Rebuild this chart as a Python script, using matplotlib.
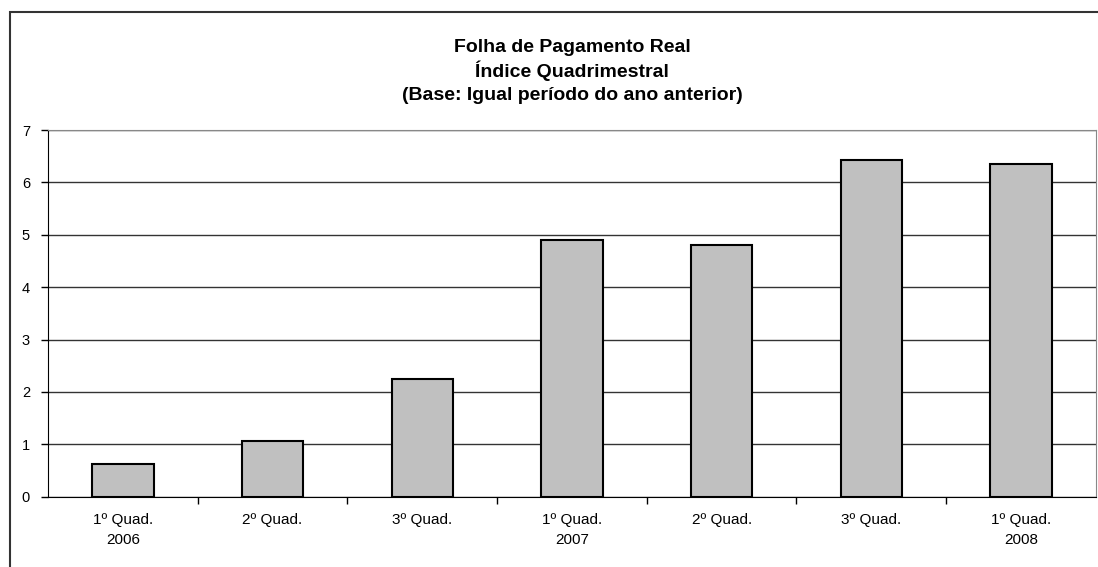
import matplotlib.pyplot as plt
from matplotlib.patches import Rectangle
import numpy as np

plt.rcParams['font.family'] = ['Liberation Sans', 'DejaVu Sans']

# data
categories = ['1º Quad.\n2006', '2º Quad.', '3º Quad.', '1º Quad.\n2007',
              '2º Quad.', '3º Quad.', '1º Quad.\n2008']
values = [0.62, 1.06, 2.24, 4.90, 4.81, 6.42, 6.35]
yticks = [0, 1, 2, 3, 4, 5, 6, 7]

fig = plt.figure(figsize=(10.98, 5.67), dpi=100)
ax = fig.add_axes([0.0437, 0.124, 0.9543, 0.6467])

# outer chart border
fig.patches.append(Rectangle((10/1098, -0.05), 1.2, 1 - 12/567 + 0.05,
                             transform=fig.transFigure, fill=False,
                             edgecolor='#333333', linewidth=1.5))

x = np.arange(len(values))
ax.bar(x, values, width=0.41, color='#C0C0C0', edgecolor='black',
       linewidth=1.5, zorder=3)

ax.set_xlim(-0.5, len(values) - 0.5)
ax.set_ylim(0, 7)
ax.set_yticks(yticks)
ax.set_yticklabels([str(t) for t in yticks], fontsize=10.5)
ax.yaxis.grid(True, color='#333333', linewidth=1, zorder=0)

# category labels between boundary ticks
ax.set_xticks(x)
ax.set_xticklabels(categories, fontsize=11, linespacing=1.5)
ax.tick_params(axis='x', length=0, pad=12)
ax.set_xticks(np.arange(0.5, len(values) - 0.5, 1), minor=True)
ax.tick_params(axis='x', which='minor', length=5, width=1, direction='out')
ax.tick_params(axis='y', length=5, width=1, direction='out', pad=8)

for s in ['top', 'right']:
    ax.spines[s].set_color('#888888')
ax.spines['left'].set_color('black')
ax.spines['bottom'].set_color('black')

fig.text(0.521, 1 - 47/567, 'Folha de Pagamento Real', ha='center', va='center',
         fontsize=14, fontweight='bold')
fig.text(0.521, 1 - 71/567, 'Índice Quadrimestral', ha='center', va='center',
         fontsize=14, fontweight='bold')
fig.text(0.521, 1 - 96/567, '(Base: Igual período do ano anterior)', ha='center',
         va='center', fontsize=14, fontweight='bold')

fig.savefig('out.png', dpi=100)
